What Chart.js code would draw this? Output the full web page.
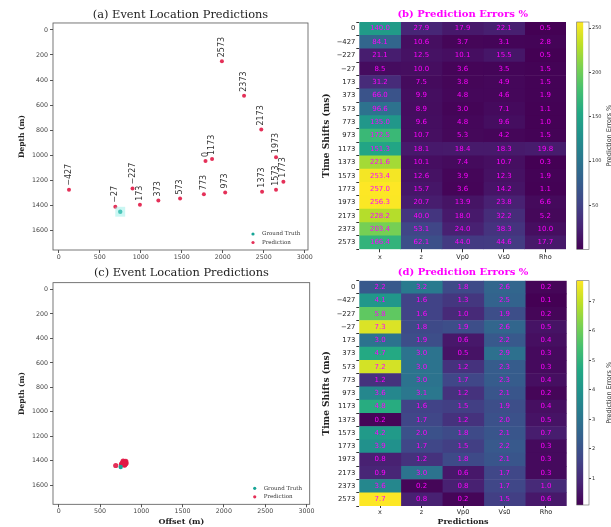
<!DOCTYPE html>
<html>
<head>
<meta charset="utf-8">
<script src="https://cdn.jsdelivr.net/npm/chart.js@4.4.0/dist/chart.umd.min.js"></script>
<style>
  body { margin: 0; background: #fff; }
  #fig { position: relative; width: 611px; height: 527px; overflow: hidden; }
  #fig canvas { position: absolute; }
</style>
</head>
<body>
<div id="fig">
  <canvas id="locA" width="315" height="262" style="left:0;top:0"></canvas>
  <canvas id="locC" width="315" height="265" style="left:0;top:262px"></canvas>
  <canvas id="errB" width="256" height="262" style="left:315px;top:0"></canvas>
  <canvas id="errD" width="256" height="265" style="left:315px;top:262px"></canvas>
  <canvas id="cbB" width="40" height="262" style="left:571px;top:0"></canvas>
  <canvas id="cbD" width="40" height="265" style="left:571px;top:262px"></canvas>
</div>
<script>
// time shifts of each event (ms), shared by all four panels
const timeShifts = ['0', '\u2212427', '\u2212227', '\u221227', '173', '373', '573', '773', '973',
    '1173', '1373', '1573', '1773', '1973', '2173', '2373', '2573'];
const errorColumns = ['x', 'z', 'Vp0', 'Vs0', 'Rho'];

// true event location (m)
const trueOffset = [750];
const trueDepth = [1450];

// predicted locations, panel (a)
const predOffsetA = [1790, 125, 900, 690, 990, 1215, 1480, 1770, 2030, 1870, 2480, 2650, 2740, 2650, 2470, 2260, 1990];
const predDepthA = [1045, 1275, 1265, 1410, 1395, 1360, 1345, 1310, 1297, 1030, 1290, 1275, 1210, 1015, 795, 525, 250];

// predicted locations, panel (c)
const predOffsetC = [792, 805, 770, 812, 785, 760, 798, 780, 815, 775, 790, 808, 765, 800, 690, 783, 795];
const predDepthC = [1418, 1425, 1430, 1405, 1412, 1428, 1435, 1402, 1420, 1415, 1432, 1410, 1422, 1426, 1438, 1408, 1420];

// prediction errors %, panel (b)
const errB_x = [140.0, 84.1, 21.1, 8.5, 31.2, 66.0, 96.6, 135.0, 172.5, 151.3, 221.6, 253.4, 257.0, 256.3, 228.2, 203.4, 166.4];
const errB_z = [27.9, 10.6, 12.5, 10.0, 7.5, 9.9, 8.9, 9.6, 10.7, 18.1, 10.1, 12.6, 15.7, 20.7, 40.0, 53.1, 62.1];
const errB_vp = [17.9, 3.7, 10.1, 3.6, 3.8, 4.8, 3.0, 4.8, 5.3, 18.4, 7.4, 3.9, 3.6, 13.9, 18.0, 24.0, 44.0];
const errB_vs = [22.1, 3.1, 15.5, 3.5, 4.9, 4.6, 7.1, 9.6, 4.2, 18.3, 10.7, 12.3, 14.2, 23.8, 32.2, 38.3, 44.6];
const errB_rho = [0.5, 2.8, 0.5, 1.5, 1.5, 1.9, 1.1, 1.0, 1.5, 19.8, 0.3, 1.9, 1.1, 6.6, 5.2, 10.0, 17.7];

// prediction errors %, panel (d)
const errD_x = [2.2, 4.1, 5.8, 7.3, 3.0, 4.7, 7.2, 1.2, 3.6, 4.8, 0.2, 4.2, 3.9, 0.8, 0.9, 3.6, 7.7];
const errD_z = [3.2, 1.6, 1.6, 1.8, 1.9, 3.0, 3.0, 3.0, 3.1, 1.6, 1.7, 2.0, 1.7, 1.2, 3.0, 0.2, 0.8];
const errD_vp = [1.8, 1.3, 1.0, 1.9, 0.6, 0.5, 1.2, 1.7, 1.2, 1.5, 1.2, 1.8, 1.5, 1.8, 0.6, 0.8, 0.2];
const errD_vs = [2.6, 2.5, 1.9, 2.6, 2.2, 2.9, 2.3, 2.3, 2.1, 1.9, 2.0, 2.1, 2.2, 2.1, 1.7, 1.7, 1.5];
const errD_rho = [0.2, 0.1, 0.2, 0.5, 0.4, 0.3, 0.3, 0.4, 0.2, 0.4, 0.5, 0.7, 0.3, 0.3, 0.3, 1.0, 0.6];

// tick labels
const offsetTicks = [0, 500, 1000, 1500, 2000, 2500, 3000];
const depthTicks = [0, 200, 400, 600, 800, 1000, 1200, 1400, 1600];
const cbTicksB = [50, 100, 150, 200, 250];
const cbTicksD = [1, 2, 3, 4, 5, 6, 7];

const serif = "'DejaVu Serif', serif";
const sans = "'DejaVu Sans', sans-serif";
const truthColor = '#17a596';
const predColor = 'rgba(225, 25, 70, 0.9)';

Chart.defaults.font.family = sans;
Chart.defaults.animation = false;
Chart.defaults.events = [];
Chart.defaults.plugins.legend.display = false;
Chart.defaults.plugins.tooltip.enabled = false;

const viridisStops = ['#440154', '#482475', '#414487', '#355f8d', '#2a788e', '#21918c',
    '#22a884', '#44bf70', '#7ad151', '#bddf26', '#fde725'];

function hexRgb(h) {
    return [1, 3, 5].map(i => parseInt(h.substr(i, 2), 16));
}

function viridis(t) {
    t = Math.min(1, Math.max(0, t));
    let p = t * 10;
    let i = Math.min(9, Math.floor(p));
    let f = p - i;
    let a = hexRgb(viridisStops[i]);
    let b = hexRgb(viridisStops[i + 1]);
    return 'rgb(' + a.map((v, k) => Math.round(v + (b[k] - v) * f)).join(',') + ')';
}

// plain tick text, no thousands separator
function plain(v) {
    return String(v);
}

// box round the plot area
const frame = {
    id: 'frame',
    afterDraw(chart, args, opts) {
        if (!opts.color) return;
        const {ctx, chartArea} = chart;
        ctx.save();
        ctx.strokeStyle = opts.color;
        ctx.lineWidth = opts.width || 0.8;
        ctx.strokeRect(chartArea.left, chartArea.top, chartArea.right - chartArea.left, chartArea.bottom - chartArea.top);
        ctx.restore();
    }
};

// rotated time-shift label above each predicted point
const shiftLabels = {
    id: 'shiftLabels',
    afterDatasetsDraw(chart, args, opts) {
        if (!opts.show) return;
        const meta = chart.getDatasetMeta(chart.data.datasets.length - 1);
        const ctx = chart.ctx;
        ctx.save();
        ctx.font = '8px ' + sans;
        ctx.fillStyle = '#333';
        ctx.textAlign = 'left';
        ctx.textBaseline = 'middle';
        meta.data.forEach((pt, i) => {
            ctx.save();
            ctx.translate(pt.x, pt.y - 4);
            ctx.rotate(-Math.PI / 2);
            ctx.fillText(timeShifts[i], 0, 0);
            ctx.restore();
        });
        ctx.restore();
    }
};

// small legend in the lower right corner
const cornerLegend = {
    id: 'cornerLegend',
    afterDraw(chart, args, opts) {
        if (!opts.show) return;
        const {ctx, chartArea} = chart;
        const items = chart.data.datasets.filter(d => d.label !== 'halo');
        ctx.save();
        ctx.font = '5.5px ' + serif;
        ctx.textBaseline = 'middle';
        items.forEach((ds, i) => {
            let x = chartArea.right - 55;
            let y = chartArea.bottom - 16 + i * 8.5;
            ctx.fillStyle = ds.backgroundColor;
            ctx.beginPath();
            ctx.arc(x, y, 1.6, 0, Math.PI * 2);
            ctx.fill();
            ctx.fillStyle = '#333';
            ctx.fillText(ds.label, x + 9, y);
        });
        ctx.restore();
    }
};

// value written in each heatmap cell
const cellValues = {
    id: 'cellValues',
    afterDatasetsDraw(chart, args, opts) {
        if (!opts.show) return;
        const ctx = chart.ctx;
        ctx.save();
        ctx.font = '7px ' + sans;
        ctx.fillStyle = '#ff00ff';
        ctx.textAlign = 'center';
        ctx.textBaseline = 'middle';
        chart.data.datasets.forEach((ds, d) => {
            chart.getDatasetMeta(d).data.forEach((bar, i) => {
                let c = bar.getCenterPoint();
                ctx.fillText(ds.errValues[i].toFixed(1), c.x, c.y);
            });
        });
        ctx.restore();
    }
};

// rotated colour bar label
const barLabel = {
    id: 'barLabel',
    afterDraw(chart, args, opts) {
        if (!opts.text) return;
        const {ctx, chartArea} = chart;
        ctx.save();
        ctx.font = '6.5px ' + sans;
        ctx.fillStyle = '#333';
        ctx.textAlign = 'center';
        ctx.textBaseline = 'middle';
        ctx.translate(chartArea.right + 20, (chartArea.top + chartArea.bottom) / 2);
        ctx.rotate(-Math.PI / 2);
        ctx.fillText(opts.text, 0, 0);
        ctx.restore();
    }
};

Chart.register(frame, shiftLabels, cornerLegend, cellValues, barLabel);

function fixWidth(w) {
    return function (scale) { scale.width = w; };
}

function fixHeight(h) {
    return function (scale) { scale.height = h; };
}

function setTicks(values) {
    return function (scale) { scale.ticks = values.map(v => ({value: v})); };
}

function drawLocations(id, title, predX, predZ, p) {
    const datasets = [];
    if (p.halo) {
        datasets.push({
            label: 'halo',
            data: [{x: trueOffset[0], y: trueDepth[0]}],
            pointStyle: 'rect',
            pointRadius: 7,
            backgroundColor: 'rgba(140, 238, 228, 0.45)',
            borderWidth: 0
        });
    }
    datasets.push({
        label: 'Ground Truth',
        data: trueOffset.map((x, i) => ({x: x, y: trueDepth[i]})),
        pointRadius: 2.2,
        backgroundColor: truthColor,
        borderWidth: 0
    });
    datasets.push({
        label: 'Prediction',
        data: predX.map((x, i) => ({x: x, y: predZ[i]})),
        pointRadius: p.radius,
        backgroundColor: predColor,
        borderWidth: 0
    });

    new Chart(document.getElementById(id), {
        type: 'scatter',
        data: {datasets: datasets},
        options: {
            responsive: false,
            layout: {padding: {left: 0, right: 5, top: 0, bottom: 0}},
            plugins: {
                title: {
                    display: true,
                    text: title,
                    fullSize: false,
                    color: '#222',
                    font: {family: serif, size: 11.4, weight: 'normal'},
                    padding: {top: p.titleTop, bottom: p.titleBottom}
                },
                frame: {color: '#555', width: 0.8},
                shiftLabels: {show: p.labels},
                cornerLegend: {show: true}
            },
            scales: {
                x: {
                    type: 'linear',
                    min: -70,
                    max: 3040,
                    afterBuildTicks: setTicks(offsetTicks),
                    afterFit: fixHeight(p.xAxisHeight),
                    grid: {display: true, drawOnChartArea: false, tickLength: 3, color: '#555'},
                    border: {display: false},
                    ticks: {color: '#444', font: {size: 6.3}, padding: 0.5, maxRotation: 0, callback: plain},
                    title: {
                        display: !!p.xTitle,
                        text: p.xTitle || '',
                        color: '#222',
                        font: {family: serif, size: 8, weight: 'bold'},
                        padding: {top: 0, bottom: 0.5}
                    }
                },
                y: {
                    type: 'linear',
                    reverse: true,
                    min: -55,
                    max: 1755,
                    afterBuildTicks: setTicks(depthTicks),
                    afterFit: fixWidth(53),
                    grid: {display: true, drawOnChartArea: false, tickLength: 3, color: '#555'},
                    border: {display: false},
                    ticks: {color: '#444', font: {size: 6.3}, padding: 2, callback: plain},
                    title: {
                        display: true,
                        text: 'Depth (m)',
                        color: '#222',
                        font: {family: serif, size: 7.5, weight: 'bold'},
                        padding: {top: 17.2, bottom: 0}
                    }
                }
            }
        }
    });
}

function drawErrors(id, title, cols, p) {
    const all = [].concat(...cols);
    const vmin = Math.min(...all);
    const vmax = Math.max(...all);
    const datasets = cols.map((vals, c) => ({
        data: vals.map(() => [c, c + 1]),
        errValues: vals,
        backgroundColor: vals.map(v => viridis((v - vmin) / (vmax - vmin))),
        borderWidth: 0,
        barPercentage: 1,
        categoryPercentage: 1,
        grouped: false
    }));

    new Chart(document.getElementById(id), {
        type: 'bar',
        data: {labels: timeShifts, datasets: datasets},
        options: {
            responsive: false,
            indexAxis: 'y',
            layout: {padding: {left: 0, right: p.right, top: 0, bottom: 0}},
            plugins: {
                title: {
                    display: true,
                    text: title,
                    fullSize: false,
                    color: '#ff00ff',
                    font: {family: serif, size: 10, weight: 'bold'},
                    padding: {top: p.titleTop, bottom: 2}
                },
                cellValues: {show: true}
            },
            scales: {
                x: {
                    type: 'linear',
                    min: 0,
                    max: errorColumns.length,
                    afterBuildTicks: setTicks(errorColumns.map((c, i) => i + 0.5)),
                    afterFit: fixHeight(p.xAxisHeight),
                    grid: {display: true, drawOnChartArea: false, tickLength: p.tickLen, color: '#333'},
                    border: {display: false},
                    ticks: {
                        color: '#222',
                        font: {size: 6.5},
                        padding: p.tickPad,
                        maxRotation: 0,
                        callback: (v, i) => errorColumns[i]
                    },
                    title: {
                        display: !!p.xTitle,
                        text: p.xTitle || '',
                        color: '#222',
                        font: {family: serif, size: 8, weight: 'bold'},
                        padding: {top: 0, bottom: 0.5}
                    }
                },
                y: {
                    type: 'category',
                    afterFit: fixWidth(44.3),
                    grid: {display: true, drawOnChartArea: false, tickLength: 3, color: '#333'},
                    border: {display: false},
                    ticks: {color: '#222', font: {size: 6.8}, padding: 1, autoSkip: false},
                    title: {
                        display: true,
                        text: 'Time Shifts (ms)',
                        color: '#222',
                        font: {family: serif, size: 9, weight: 'bold'},
                        padding: {top: 6.3, bottom: 0}
                    }
                }
            }
        }
    });
    return [vmin, vmax];
}

function drawColorbar(id, range, ticks, p) {
    const vmin = range[0], vmax = range[1];
    new Chart(document.getElementById(id), {
        type: 'bar',
        data: {
            labels: ['cb'],
            datasets: [{
                data: [[vmin, vmax]],
                barPercentage: 1,
                categoryPercentage: 1,
                borderWidth: 0,
                backgroundColor: function (context) {
                    const chart = context.chart;
                    if (!chart.chartArea) return null;
                    const y = chart.scales.y;
                    const g = chart.ctx.createLinearGradient(0, y.getPixelForValue(vmin), 0, y.getPixelForValue(vmax));
                    viridisStops.forEach((c, i) => g.addColorStop(i / 10, c));
                    return g;
                }
            }]
        },
        options: {
            responsive: false,
            layout: {padding: {left: 5.7, right: 0, top: p.top, bottom: p.bottom}},
            plugins: {
                frame: {color: '#666', width: 0.6},
                barLabel: {text: 'Prediction Errors %'}
            },
            scales: {
                x: {display: false, offset: false},
                y: {
                    position: 'right',
                    min: vmin,
                    max: vmax,
                    afterBuildTicks: setTicks(ticks),
                    afterFit: fixWidth(22),
                    grid: {display: true, drawOnChartArea: false, tickLength: 2, color: '#444'},
                    border: {display: false},
                    ticks: {color: '#333', font: {size: 5}, padding: 1, callback: plain}
                }
            }
        }
    });
}

drawLocations('locA', '(a) Event Location Predictions', predOffsetA, predDepthA,
    {halo: true, labels: true, radius: 2, titleTop: 8.15, titleBottom: 1.15, xAxisHeight: 12});
drawLocations('locC', '(c) Event Location Predictions', predOffsetC, predDepthC,
    {halo: false, labels: false, radius: 2.6, titleTop: 3.85, titleBottom: 3.15, xAxisHeight: 22.7, xTitle: 'Offset (m)'});

const rangeB = drawErrors('errB', '(b) Prediction Errors %', [errB_x, errB_z, errB_vp, errB_vs, errB_rho],
    {right: 5, titleTop: 8, xAxisHeight: 12.7, tickLen: 3, tickPad: 1});
const rangeD = drawErrors('errD', '(d) Prediction Errors %', [errD_x, errD_z, errD_vp, errD_vs, errD_rho],
    {right: 4.3, titleTop: 4.7, xAxisHeight: 21, tickLen: 2, tickPad: 0, xTitle: 'Predictions'});

drawColorbar('cbB', rangeB, cbTicksB, {top: 22, bottom: 12.7});
drawColorbar('cbD', rangeD, cbTicksD, {top: 18.7, bottom: 22});
</script>
</body>
</html>
